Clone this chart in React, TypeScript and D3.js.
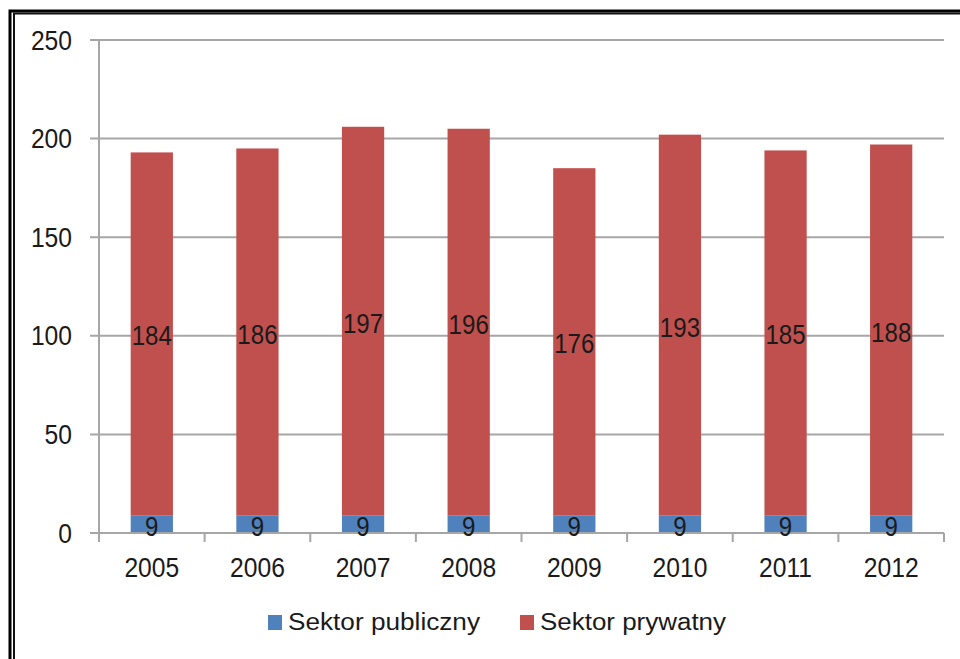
import React from "react";
import * as d3 from "d3";

const years = ["2005", "2006", "2007", "2008", "2009", "2010", "2011", "2012"];
const publiczny = [9, 9, 9, 9, 9, 9, 9, 9];
const prywatny = [184, 186, 197, 196, 176, 193, 185, 188];
const seriesNames = ["Sektor publiczny", "Sektor prywatny"];
const yTicks = [0, 50, 100, 150, 200, 250];

const width = 960;
const height = 659;
const margin = { top: 40, right: 16, bottom: 126, left: 99 };
const colors = ["#4F81BD", "#C0504D"];
const gridColor = "#A6A6A6";
const font = "'Liberation Sans', Arial, sans-serif";

const Label = ({ x, y, text, anchor = "middle", size = 28, sx = 0.88 }: any) => (
  <g transform={`translate(${x},${y}) scale(${sx},1)`}>
    <text textAnchor={anchor} dominantBaseline="central" fontSize={size} fontFamily={font} fill="#1a1a1a">
      {text}
    </text>
  </g>
);

export default function App() {
  const x = d3
    .scaleBand()
    .domain(years)
    .range([margin.left, width - margin.right])
    .paddingInner(0.6)
    .paddingOuter(0.3);
  const y = d3
    .scaleLinear()
    .domain([0, 250])
    .range([height - margin.bottom, margin.top]);

  const rows = years.map((yr, i) => ({ yr, pub: publiczny[i], pry: prywatny[i] }));
  const stack = d3.stack<any>().keys(["pub", "pry"])(rows);

  const bandW = (width - margin.right - margin.left) / years.length;
  const edges = d3.range(years.length + 1).map((i) => margin.left + i * bandW);
  const y0 = y(0);

  return (
    <svg width={width} height={height} style={{ position: "absolute", left: 0, top: 0, background: "#fff" }}>
      {/* double frame */}
      <rect x={10} y={11} width={1000} height={1000} fill="none" stroke="#000" strokeWidth={3} />
      <rect x={14} y={13.5} width={1000} height={1000} fill="none" stroke="#111" strokeWidth={2} />

      {/* gridlines */}
      {yTicks.map((t) => (
        <g key={t}>
          <line x1={90} x2={width - margin.right} y1={y(t)} y2={y(t)} stroke={gridColor} strokeWidth={2} />
          <Label x={72} y={y(t)} text={String(t)} anchor="end" />
        </g>
      ))}
      <line x1={margin.left} x2={margin.left} y1={y(250)} y2={y0 + 9} stroke={gridColor} strokeWidth={2} />
      {edges.map((e, i) => (
        <line key={i} x1={e} x2={e} y1={y0} y2={y0 + 9} stroke={gridColor} strokeWidth={2} />
      ))}

      {/* bars */}
      {stack.map((s, si) =>
        s.map((d: any, i: number) => (
          <rect
            key={si + "-" + i}
            x={x(years[i])}
            width={x.bandwidth()}
            y={y(d[1])}
            height={y(d[0]) - y(d[1])}
            fill={colors[si]}
          />
        ))
      )}
      <line x1={margin.left} x2={width - margin.right} y1={y0} y2={y0} stroke={gridColor} strokeWidth={2} />

      {/* data labels */}
      {stack.map((s, si) =>
        s.map((d: any, i: number) => (
          <Label
            key={"l" + si + "-" + i}
            x={x(years[i])! + x.bandwidth() / 2}
            y={(y(d[0]) + y(d[1])) / 2 + 2}
            text={String(si === 0 ? publiczny[i] : prywatny[i])}
            sx={0.86}
          />
        ))
      )}

      {/* x labels */}
      {years.map((yr) => (
        <Label key={yr} x={x(yr)! + x.bandwidth() / 2} y={567} text={yr} />
      ))}

      {/* legend */}
      {seriesNames.map((n, i) => {
        const lx = i === 0 ? 268 : 520;
        return (
          <g key={n}>
            <rect x={lx} y={615} width={14} height={15} fill={colors[i]} />
            <text
              x={lx + 20}
              y={630}
              fontSize={23}
              fontFamily={font}
              fill="#1a1a1a"
              textLength={i === 0 ? 192 : 186}
              lengthAdjust="spacingAndGlyphs"
            >
              {n}
            </text>
          </g>
        );
      })}
    </svg>
  );
}
